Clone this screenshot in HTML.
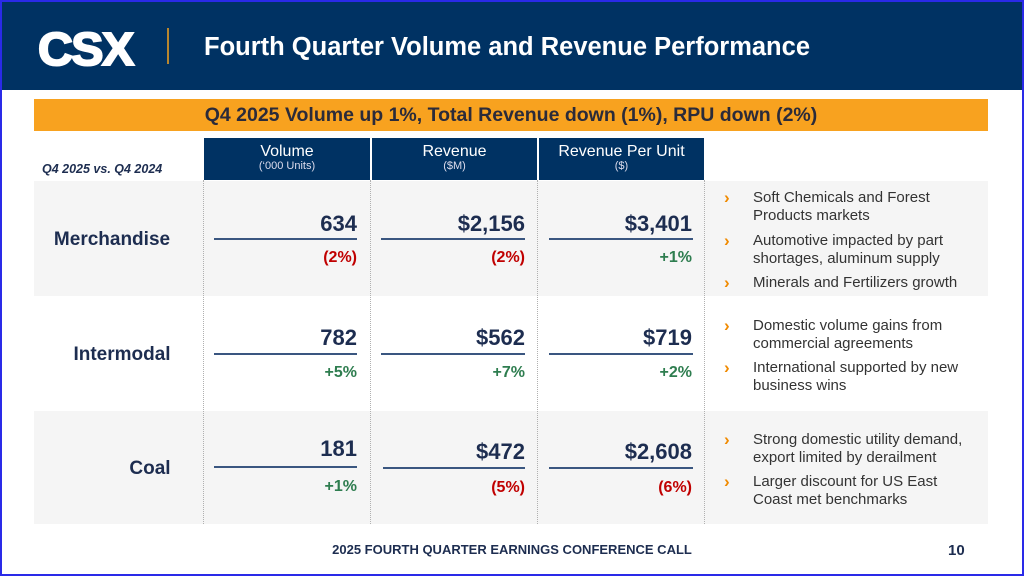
<!DOCTYPE html>
<html><head><meta charset="utf-8"><style>
*{margin:0;padding:0;box-sizing:border-box}
body{width:1024px;height:576px;position:relative;overflow:hidden;background:#fff;font-family:"Liberation Sans",Arial,sans-serif}
.a{position:absolute}
.frame{left:0;top:0;width:1024px;height:576px;border:2px solid #2a2ae8;z-index:10}
.hdr{left:0;top:0;width:1024px;height:90px;background:#003263}
.logo{left:38px;top:22px;font:900 46px "Liberation Sans",sans-serif;color:#fff;letter-spacing:-1.5px;transform:scaleX(1.05);transform-origin:left;-webkit-text-stroke:2px #fff}
.vbar{left:167px;top:28px;width:2px;height:36px;background:#b8862e}
.title{left:204px;top:33px;font:bold 25.5px "Liberation Sans",sans-serif;color:#fff}
.orange{left:34px;top:99px;width:954px;height:32px;background:#f8a21f;text-align:center;font:bold 19.5px/32px "Liberation Sans",sans-serif;color:#2b2b3a}
.cmp{left:42px;top:162px;font:italic bold 12.5px "Liberation Sans",sans-serif;color:#1d2d50}
.hc{top:138px;height:42px;background:#003263;color:#fff;text-align:center;font-size:16px;padding-top:6px;line-height:16px}
.hc small{display:block;font-size:11px;line-height:13px;color:#dde}
.band{left:34px;width:954px;background:#f5f5f5}
.dv{top:180px;height:344px;border-left:1px dotted #b0b0b0}
.lbl{font:bold 19px "Liberation Sans",sans-serif;color:#1d2d50;text-align:center;width:180px}
.num{font:bold 22px "Liberation Sans",sans-serif;color:#1d2d50;text-align:right;width:150px}
.ln{height:2px;background:#3a5680}
.pc{font:bold 16px "Liberation Sans",sans-serif;text-align:right;width:150px}
.r{color:#c00000}.g{color:#2e7d4f}
.bl{left:724px;font:15px/18px "Liberation Sans",sans-serif;color:#333}
.bl .ar{position:absolute;left:0;color:#f08a00;font-weight:bold;font-size:17px}
.bl .t{position:absolute;left:29px;width:215px}
.foot{left:0;width:1024px;top:542px;text-align:center;font:bold 13px "Liberation Sans",sans-serif;color:#1d2d50}
.pg{left:948px;top:542px;font:bold 15px "Liberation Sans",sans-serif;color:#1d2d50}
</style></head><body>
<div class="a frame"></div>
<div class="a hdr"></div>
<div class="a logo">CSX</div>
<div class="a vbar"></div>
<div class="a title">Fourth Quarter Volume and Revenue Performance</div>
<div class="a orange">Q4 2025 Volume up 1%, Total Revenue down (1%), RPU down (2%)</div>
<div class="a cmp">Q4 2025 vs. Q4 2024</div>
<div class="a hc" style="left:204px;width:166px">Volume<small>(‘000 Units)</small></div>
<div class="a hc" style="left:372px;width:165px">Revenue<small>($M)</small></div>
<div class="a hc" style="left:539px;width:165px">Revenue Per Unit<small>($)</small></div>
<div class="a band" style="top:181px;height:115px"></div>
<div class="a band" style="top:411px;height:113px"></div>
<div class="a dv" style="left:203px"></div>
<div class="a dv" style="left:370px"></div>
<div class="a dv" style="left:537px"></div>
<div class="a dv" style="left:704px"></div>

<div class="a lbl" style="top:229px;left:22px">Merchandise</div>
<div class="a num" style="left:207px;top:211px">634</div>
<div class="a num" style="left:375px;top:211px">$2,156</div>
<div class="a num" style="left:542px;top:211px">$3,401</div>
<div class="a ln" style="left:214px;top:238px;width:143px"></div>
<div class="a ln" style="left:381px;top:238px;width:144px"></div>
<div class="a ln" style="left:549px;top:238px;width:144px"></div>
<div class="a pc r" style="left:207px;top:249px">(2%)</div>
<div class="a pc r" style="left:375px;top:249px">(2%)</div>
<div class="a pc g" style="left:542px;top:249px">+1%</div>

<div class="a lbl" style="top:344px;left:32px">Intermodal</div>
<div class="a num" style="left:207px;top:325px">782</div>
<div class="a num" style="left:375px;top:325px">$562</div>
<div class="a num" style="left:542px;top:325px">$719</div>
<div class="a ln" style="left:214px;top:353px;width:143px"></div>
<div class="a ln" style="left:381px;top:353px;width:144px"></div>
<div class="a ln" style="left:549px;top:353px;width:144px"></div>
<div class="a pc g" style="left:207px;top:364px">+5%</div>
<div class="a pc g" style="left:375px;top:364px">+7%</div>
<div class="a pc g" style="left:542px;top:364px">+2%</div>

<div class="a lbl" style="top:458px;left:60px">Coal</div>
<div class="a num" style="left:207px;top:436px">181</div>
<div class="a num" style="left:375px;top:439px">$472</div>
<div class="a num" style="left:542px;top:439px">$2,608</div>
<div class="a ln" style="left:214px;top:466px;width:143px"></div>
<div class="a ln" style="left:383px;top:467px;width:142px"></div>
<div class="a ln" style="left:549px;top:467px;width:144px"></div>
<div class="a pc g" style="left:207px;top:478px">+1%</div>
<div class="a pc r" style="left:375px;top:479px">(5%)</div>
<div class="a pc r" style="left:542px;top:479px">(6%)</div>

<div class="a bl" style="top:189px"><span class="ar">›</span><span class="t">Soft Chemicals and Forest Products markets</span></div>
<div class="a bl" style="top:232px"><span class="ar">›</span><span class="t">Automotive impacted by part shortages, aluminum supply</span></div>
<div class="a bl" style="top:274px"><span class="ar">›</span><span class="t">Minerals and Fertilizers growth</span></div>
<div class="a bl" style="top:317px"><span class="ar">›</span><span class="t">Domestic volume gains from commercial agreements</span></div>
<div class="a bl" style="top:359px"><span class="ar">›</span><span class="t">International supported by new business wins</span></div>
<div class="a bl" style="top:431px"><span class="ar">›</span><span class="t">Strong domestic utility demand, export limited by derailment</span></div>
<div class="a bl" style="top:473px"><span class="ar">›</span><span class="t">Larger discount for US East Coast met benchmarks</span></div>

<div class="a foot">2025 FOURTH QUARTER EARNINGS CONFERENCE CALL</div>
<div class="a pg">10</div>
</body></html>
